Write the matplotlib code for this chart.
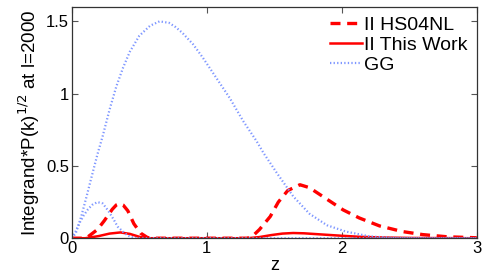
import matplotlib
matplotlib.use("Agg")
from matplotlib import pyplot as plt

plt.rcParams['font.family'] = ['Liberation Sans', 'DejaVu Sans']

# GG: large bump and small low-z bump (same style, one legend entry)
gg_z = [0, 0.03, 0.07, 0.11, 0.14, 0.19, 0.23, 0.28, 0.33, 0.38, 0.43, 0.50, 0.58,
        0.65, 0.72, 0.77, 0.82, 0.90, 0.97, 1.07, 1.17, 1.27, 1.37, 1.42, 1.52,
        1.64, 1.76, 1.89, 2.03, 2.21, 2.40, 2.60, 3.00]
gg_v = [0, 0.035, 0.15, 0.29, 0.40, 0.58, 0.71, 0.89, 1.05, 1.18, 1.29, 1.40, 1.47,
        1.50, 1.49, 1.46, 1.42, 1.34, 1.25, 1.11, 0.97, 0.81, 0.67, 0.59, 0.45,
        0.29, 0.17, 0.09, 0.046, 0.012, 0.002, 0, 0]

gg_small_z = [0, 0.03, 0.06, 0.09, 0.12, 0.15, 0.19, 0.23, 0.27, 0.31, 0.34, 0.39,
              0.43, 0.47, 0.50, 3.0]
gg_small_v = [0, 0.05, 0.11, 0.16, 0.20, 0.23, 0.25, 0.24, 0.19, 0.13, 0.08, 0.035,
              0.012, 0.002, 0, 0]

# II HS04NL
hs_z = [0, 0.08, 0.12, 0.19, 0.24, 0.27, 0.30, 0.33, 0.355, 0.38, 0.415, 0.46, 0.51,
        0.56, 0.60, 1.30, 1.34, 1.39, 1.47, 1.53, 1.60, 1.69, 1.76, 1.89, 2.01,
        2.13, 2.28, 2.45, 2.60, 2.78, 3.00]
hs_v = [0, 0, 0.01, 0.06, 0.12, 0.16, 0.20, 0.23, 0.24, 0.23, 0.19, 0.10, 0.035,
        0.005, 0, 0, 0.015, 0.06, 0.15, 0.25, 0.33, 0.37, 0.35, 0.27, 0.196,
        0.14, 0.085, 0.046, 0.025, 0.01, 0.003]

# II This Work
tw_z = [0, 0.10, 0.20, 0.28, 0.36, 0.43, 0.50, 0.56, 1.30, 1.39, 1.48, 1.56, 1.64,
        1.72, 1.85, 2.00, 2.13, 2.30, 2.50, 2.70, 3.00]
tw_v = [0, 0, 0.015, 0.032, 0.04, 0.03, 0.01, 0, 0, 0.008, 0.022, 0.032, 0.036,
        0.034, 0.026, 0.017, 0.01, 0.005, 0.002, 0.001, 0]

x_ticks = [0, 1, 2, 3]
x_ticklabels = ['0', '1', '2', '3']
y_ticks = [0, 0.5, 1, 1.5]
y_ticklabels = ['0', '0.5', '1', '1.5']

fig = plt.figure(figsize=(4.85, 2.77), dpi=100)
ax = fig.add_axes([0.148, 0.140, 0.835, 0.835])

blue = '#7f97ff'
ax.plot(hs_z, hs_v, color='red', linestyle=(0, (3, 2)), linewidth=2.4, label='II HS04NL')
ax.plot(tw_z, tw_v, color='red', linestyle='-', linewidth=1.8, label='II This Work')
ax.plot(gg_z, gg_v, color=blue, linestyle=(0, (0.6, 1.0)), linewidth=1.6, label='GG')
ax.plot(gg_small_z, gg_small_v, color=blue, linestyle=(0, (0.6, 1.0)), linewidth=1.6)

ax.set_xlim(0, 3)
ax.set_ylim(0, 1.6)
ax.set_xticks(x_ticks)
ax.set_xticklabels(x_ticklabels)
ax.set_yticks(y_ticks)
ax.set_yticklabels(y_ticklabels)
ax.tick_params(direction='in', top=True, right=True, length=4, width=0.8,
               labelsize=12, pad=2, color='#555555')
for s in ax.spines.values():
    s.set_linewidth(0.9)
    s.set_color('#333333')

ax.set_xlabel('z', fontsize=13, labelpad=1)
ax.set_ylabel(r'Integrand*P(k)$^{1/2}$ at l=2000', fontsize=13.5, labelpad=3)

ax.legend(loc='upper right', frameon=False, fontsize=14, handlelength=1.6,
          handletextpad=0.1, labelspacing=0.12, borderaxespad=0.1)

fig.savefig('out.png', dpi=100)
